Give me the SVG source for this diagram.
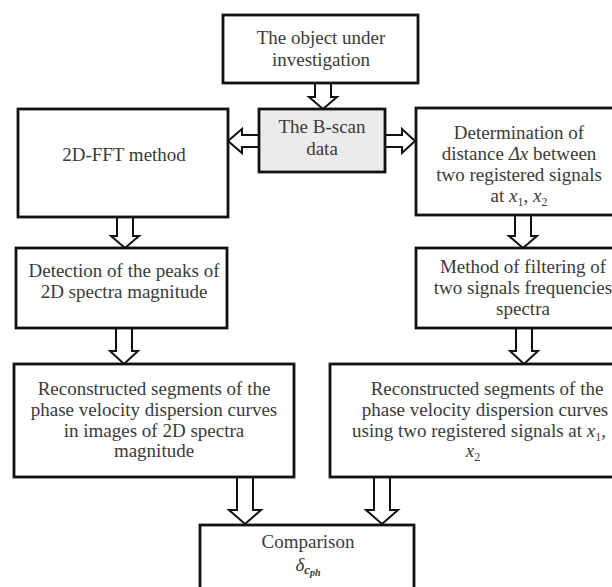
<svg xmlns="http://www.w3.org/2000/svg" width="612" height="587" viewBox="0 0 612 587">
<style>
.box{fill:#fff;stroke:#111;stroke-width:2.8}
.gray{fill:#ebebeb}
.arr{fill:#fff;stroke:#111;stroke-width:2;stroke-linejoin:miter}
text{font-family:"Liberation Serif","Times New Roman",serif;font-size:19px;fill:#3a3a3a;text-anchor:middle}
.m{font-style:italic}
</style>
<rect width="612" height="587" fill="#fff"/>
<g id="connectors">
<polygon class="arr" points="315,83 331,83 331,97 337,97 323,109 309,97 315,97"/>
<polygon class="arr" points="259,135 242,135 242,129 228,141 242,153 242,147 259,147"/>
<polygon class="arr" points="385,135 402,135 402,129 415,141 402,153 402,147 385,147"/>
<polygon class="arr" points="117,217 133,217 133,236 139,236 125,248 111,236 117,236"/>
<polygon class="arr" points="515,215 531,215 531,236 537,236 523,248 509,236 515,236"/>
<polygon class="arr" points="116,328 132,328 132,351 138,351 124,364 110,351 116,351"/>
<polygon class="arr" points="516,328 532,328 532,351 538,351 524,364 510,351 516,351"/>
<polygon class="arr" points="237,477 253,477 253,510 261,510 245,524 229,510 237,510"/>
<polygon class="arr" points="374,477 390,477 390,510 398,510 382,524 366,510 374,510"/>
</g>
<g id="n-object">
<rect class="box" x="223" y="15" width="195" height="68"/>
<text x="321" y="44">The object under</text>
<text x="321" y="66">investigation</text>
</g>
<g id="n-bscan">
<rect class="box gray" x="259" y="109" width="126" height="63"/>
<text x="322" y="133">The B-scan</text>
<text x="322" y="155">data</text>
</g>
<g id="n-fft">
<rect class="box" x="18" y="109" width="210" height="108"/>
<text x="124" y="161">2D-FFT method</text>
</g>
<g id="n-det">
<rect class="box" x="416" y="108" width="210" height="107"/>
<text x="519" y="139">Determination of</text>
<text x="519" y="160">distance <tspan class="m">Δx</tspan> between</text>
<text x="519" y="181">two registered signals</text>
<text x="519" y="202">at <tspan class="m">x</tspan><tspan font-size="12" dy="4">1</tspan><tspan dy="-4">, </tspan><tspan class="m">x</tspan><tspan font-size="12" dy="4">2</tspan></text>
</g>
<g id="n-peaks">
<rect class="box" x="16" y="248" width="211" height="80"/>
<text x="124" y="277">Detection of the peaks of</text>
<text x="124" y="298">2D spectra magnitude</text>
</g>
<g id="n-filter">
<rect class="box" x="416" y="248" width="210" height="80"/>
<text x="523" y="273">Method of filtering of</text>
<text x="523" y="294">two signals frequencies</text>
<text x="523" y="315">spectra</text>
</g>
<g id="n-recon-left">
<rect class="box" x="14" y="364" width="280" height="113"/>
<text x="154" y="395">Reconstructed segments of the</text>
<text x="154" y="416">phase velocity dispersion curves</text>
<text x="154" y="437">in images of 2D spectra</text>
<text x="154" y="457">magnitude</text>
</g>
<g id="n-recon-right">
<rect class="box" x="330" y="364" width="300" height="113"/>
<text x="487" y="395">Reconstructed segments of the</text>
<text x="485" y="416">phase velocity dispersion curves</text>
<text x="479" y="437">using two registered signals at  <tspan class="m">x</tspan><tspan font-size="12" dy="4">1</tspan><tspan dy="-4">,</tspan></text>
<text x="473" y="457"><tspan class="m">x</tspan><tspan font-size="12" dy="4">2</tspan></text>
</g>
<g id="n-compare">
<rect class="box" x="200" y="525" width="214" height="70"/>
<text x="308" y="548">Comparison</text>
<text x="308" y="571" style="font-style:italic"><tspan>δ</tspan><tspan font-size="13" dy="3" font-weight="bold">c</tspan><tspan font-size="10" dy="2" font-weight="bold">ph</tspan></text>
</g>
</svg>
